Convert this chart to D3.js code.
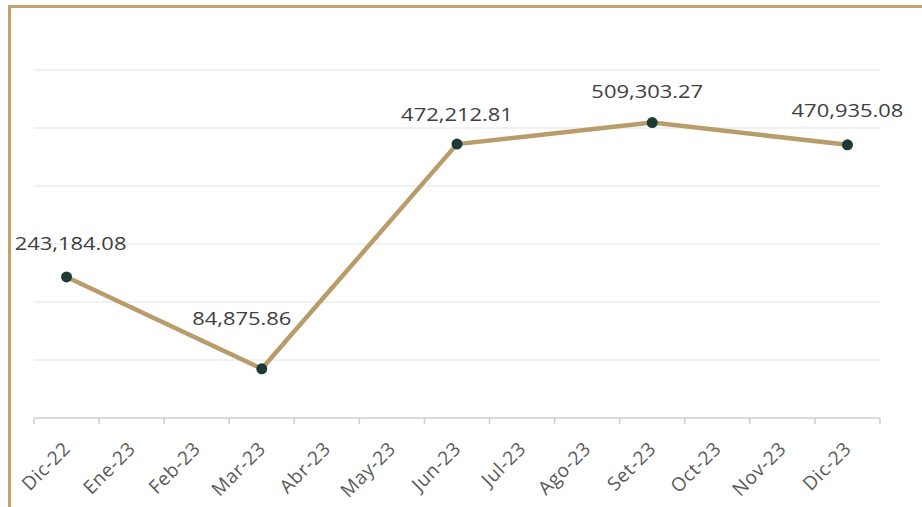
<!DOCTYPE html>
<html><head><meta charset="utf-8">
<script src="https://cdn.jsdelivr.net/npm/d3@7"></script>
<style>html,body{margin:0;padding:0;background:#fff;}svg{display:block;}</style>
</head><body>
<svg id="chart" width="922" height="507"></svg>
<script>
const categories = ["Dic-22","Ene-23","Feb-23","Mar-23","Abr-23","May-23","Jun-23","Jul-23","Ago-23","Set-23","Oct-23","Nov-23","Dic-23"];
const pointMonths = ["Dic-22","Mar-23","Jun-23","Set-23","Dic-23"];
const pointValues = [243184.08, 84875.86, 472212.81, 509303.27, 470935.08];
const yTicks = [0, 100000, 200000, 300000, 400000, 500000, 600000];

const svg = d3.select("#chart");
const W = 922, H = 507;
const m = {left: 34, right: 42, top: 70, bottom: 89};

// frame
svg.append("rect").attr("x", 9.5).attr("y", 6.5).attr("width", 1000).attr("height", 1000)
  .attr("fill", "none").attr("stroke", "#c3a26e").attr("stroke-width", 3);

const x = d3.scaleBand().domain(categories).range([m.left, W - m.right]).paddingInner(0).paddingOuter(0);
const y = d3.scaleLinear().domain([0, 600000]).range([H - m.bottom, m.top]);

// gridlines
svg.append("g").selectAll("line").data(yTicks.slice(1)).join("line")
  .attr("x1", m.left).attr("x2", W - m.right)
  .attr("y1", d => y(d)).attr("y2", d => y(d))
  .attr("stroke", "#ececec").attr("stroke-width", 1.5);

// x axis line and ticks between categories
const ax = svg.append("g");
ax.append("line").attr("x1", m.left).attr("x2", W - m.right)
  .attr("y1", y(0)).attr("y2", y(0)).attr("stroke", "#cfcfcf").attr("stroke-width", 1.5);
const edges = categories.map(c => x(c)).concat([x(categories[categories.length-1]) + x.bandwidth()]);
ax.selectAll("line.t").data(edges).join("line").attr("class","t")
  .attr("x1", d => d).attr("x2", d => d).attr("y1", y(0)).attr("y2", y(0) + 6)
  .attr("stroke", "#cfcfcf").attr("stroke-width", 1.5);
ax.selectAll("text").data(categories).join("text")
  .attr("transform", d => `translate(${x(d) + x.bandwidth()/2 + 5},${y(0) + 32}) rotate(-45)`)
  .attr("text-anchor", "end")
  .attr("font-family", "Open Sans, sans-serif").attr("font-size", 19).attr("letter-spacing", 0.6)
  .attr("fill", "#595959").text(d => d);

const pts = pointMonths.map((c, i) => ({c, v: pointValues[i]}));
const cx = d => x(d.c) + x.bandwidth()/2;

svg.append("path").datum(pts)
  .attr("d", d3.line().x(cx).y(d => y(d.v)))
  .attr("fill", "none").attr("stroke", "#b89c6a").attr("stroke-width", 4.5).attr("stroke-linejoin", "round");

svg.append("g").selectAll("circle").data(pts).join("circle")
  .attr("cx", cx).attr("cy", d => y(d.v)).attr("r", 5.5).attr("fill", "#1d3a36");

const fmt = d3.format(",.2f");
const labelDx = [4, -20, 0, -5, 0];
const labelDy = [-27, -44, -23, -25, -28];
svg.append("g").selectAll("text").data(pts).join("text")
  .attr("transform", (d, i) => `translate(${cx(d) + labelDx[i]},${y(d.v) + labelDy[i]}) scale(1.22,1)`)
  .attr("text-anchor", "middle")
  .attr("font-family", "Open Sans, sans-serif").attr("font-size", 18)
  .attr("fill", "#404040").text(d => fmt(d.v));
</script>
</body></html>
